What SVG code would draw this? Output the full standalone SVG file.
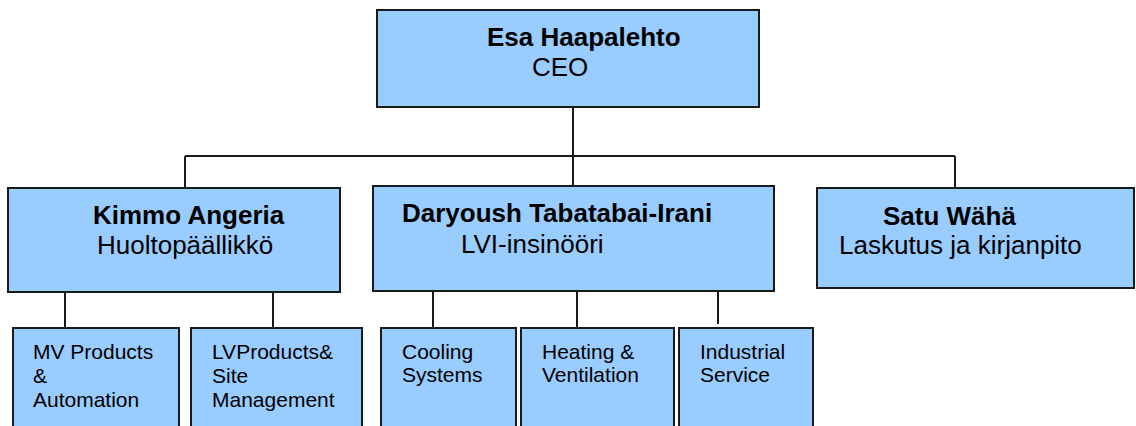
<svg xmlns="http://www.w3.org/2000/svg" width="1136" height="426" viewBox="0 0 1136 426">
<style>
.box{fill:#99ccff;stroke:#1a1a1a;stroke-width:2}
.ln{stroke:#1a1a1a;stroke-width:2;fill:none}
.nm{font-family:"Liberation Sans",Arial,sans-serif;font-weight:bold;font-size:26px;fill:#000}
.ti{font-family:"Liberation Sans",Arial,sans-serif;font-size:26px;fill:#000}
.sm{font-family:"Liberation Sans",Arial,sans-serif;font-size:21px;fill:#000}
</style>
<rect width="1136" height="426" fill="#ffffff"/>
<g id="connectors">
<path class="ln" d="M573 107V156M185 156H955M185 156V188M573 156V186M955 156V188"/>
<path class="ln" d="M65 292V328M273 292V328"/>
<path class="ln" d="M433 291V328M577 291V328M718 291V324"/>
</g>
<g id="ceo">
<rect class="box" x="377" y="10" width="382" height="97"/>
<text class="nm" x="487" y="46">Esa Haapalehto</text>
<text class="ti" x="532" y="76">CEO</text>
</g>
<g id="kimmo">
<rect class="box" x="8" y="188" width="332" height="104"/>
<text class="nm" x="93" y="224">Kimmo Angeria</text>
<text class="ti" x="97" y="254">Huoltopäällikkö</text>
</g>
<g id="daryoush">
<rect class="box" x="373" y="186" width="401" height="105"/>
<text class="nm" x="402" y="222">Daryoush Tabatabai-Irani</text>
<text class="ti" x="461" y="253">LVI-insinööri</text>
</g>
<g id="satu">
<rect class="box" x="817" y="188" width="317" height="100"/>
<text class="nm" x="883" y="225">Satu Wähä</text>
<text class="ti" x="839" y="254">Laskutus ja kirjanpito</text>
</g>
<g id="mv">
<rect class="box" x="13" y="328" width="166" height="110"/>
<text class="sm" x="33" y="359">MV Products</text>
<text class="sm" x="33" y="383">&amp;</text>
<text class="sm" x="33" y="407">Automation</text>
</g>
<g id="lv">
<rect class="box" x="191" y="328" width="171" height="110"/>
<text class="sm" x="212" y="359">LVProducts&amp;</text>
<text class="sm" x="212" y="383">Site</text>
<text class="sm" x="212" y="407">Management</text>
</g>
<g id="cooling">
<rect class="box" x="381" y="328" width="135" height="110"/>
<text class="sm" x="402" y="359">Cooling</text>
<text class="sm" x="402" y="382">Systems</text>
</g>
<g id="heating">
<rect class="box" x="521" y="328" width="153" height="110"/>
<text class="sm" x="542" y="359">Heating &amp;</text>
<text class="sm" x="542" y="382">Ventilation</text>
</g>
<g id="industrial">
<rect class="box" x="679" y="328" width="134" height="110"/>
<text class="sm" x="700" y="359">Industrial</text>
<text class="sm" x="700" y="382">Service</text>
</g>
</svg>
